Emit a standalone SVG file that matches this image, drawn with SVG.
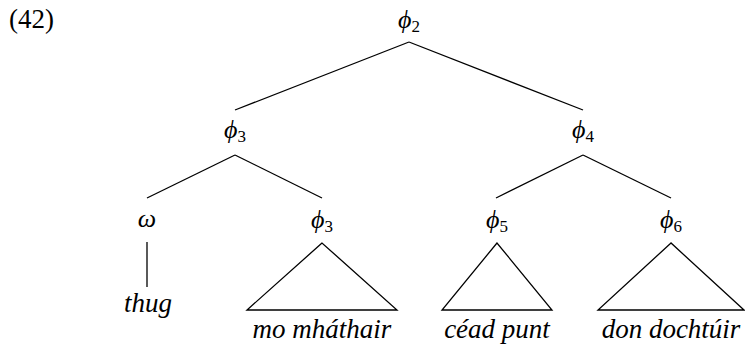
<svg xmlns="http://www.w3.org/2000/svg" width="745" height="347" viewBox="0 0 745 347" font-family="'Liberation Serif', 'Times New Roman', serif">
<style>
text{fill:#000}
.lab{font-size:26px;font-style:italic;text-anchor:middle}
.sub{font-size:17px;font-style:normal}
.leaf{font-size:27px;font-style:italic;text-anchor:middle}
.num{font-size:27px}
.e{stroke:#000;stroke-width:1.3;fill:none}
</style>
<rect width="745" height="347" fill="#fff"/>
<text class="num" x="9" y="28">(42)</text>
<g id="connectors">
<line class="e" x1="409" y1="42" x2="235" y2="110"/>
<line class="e" x1="409" y1="42" x2="583" y2="110"/>
<line class="e" x1="235" y1="155" x2="147" y2="198"/>
<line class="e" x1="235" y1="155" x2="322" y2="198"/>
<line class="e" x1="583" y1="155" x2="496" y2="198"/>
<line class="e" x1="583" y1="155" x2="671" y2="198"/>
<line class="e" x1="147" y1="242" x2="147" y2="287"/>
</g>
<g id="phi2"><text class="lab" x="409" y="28">ϕ<tspan class="sub" dy="4">2</tspan></text></g>
<g id="phi3a"><text class="lab" x="235" y="138">ϕ<tspan class="sub" dy="4">3</tspan></text></g>
<g id="phi4"><text class="lab" x="583" y="138">ϕ<tspan class="sub" dy="4">4</tspan></text></g>
<g id="omega"><text class="lab" x="147" y="227">ω</text></g>
<g id="phi3b"><text class="lab" x="322" y="228">ϕ<tspan class="sub" dy="4">3</tspan></text></g>
<g id="phi5"><text class="lab" x="497" y="228">ϕ<tspan class="sub" dy="4">5</tspan></text></g>
<g id="phi6"><text class="lab" x="671" y="228">ϕ<tspan class="sub" dy="4">6</tspan></text></g>
<g id="thug"><text class="leaf" x="148" y="312">thug</text></g>
<g id="tri1"><polygon class="e" points="322,243 247,310 397,310"/><text class="leaf" x="322" y="338">mo mháthair</text></g>
<g id="tri2"><polygon class="e" points="497,243 442,310 552,310"/><text class="leaf" x="497" y="338">céad punt</text></g>
<g id="tri3"><polygon class="e" points="671,243 598,310 744,310"/><text class="leaf" x="671" y="338">don dochtúir</text></g>
</svg>
